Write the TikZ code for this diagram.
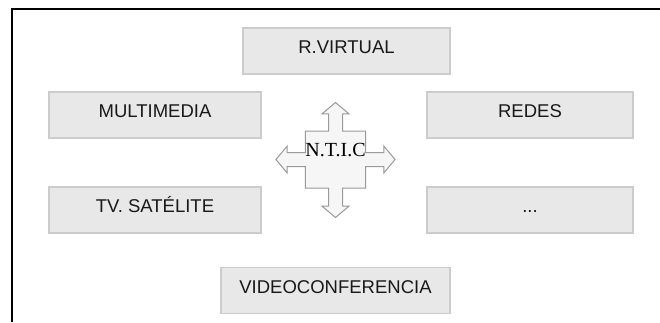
\documentclass[tikz,border=0pt]{standalone}
\usepackage{fontspec}
\setmainfont{Liberation Sans}
\newfontfamily\ticfont{Liberation Serif}
\usepackage{xcolor}
\usetikzlibrary{shapes.arrows}
\definecolor{boxfill}{HTML}{E8E8E8}
\definecolor{boxline}{HTML}{CCCCCC}
\definecolor{crossfill}{HTML}{F6F6F6}
\definecolor{crossline}{HTML}{9A9A9A}

\begin{document}
\begin{tikzpicture}[x=1pt, y=-1pt,
  box/.style={draw=boxline, line width=1.5pt, fill=boxfill, minimum height=46pt,
              font=\fontsize{18.5}{20}\selectfont, text=black!90,
              text height=13.5pt, text depth=8pt, align=center},
  frame/.style={draw=black, line width=2pt},
  cross/.style={draw=crossline, line width=1pt, fill=crossfill,
                minimum width=57pt, minimum height=57pt,
                arrow box arrows={north:28pt, south:29pt, east:29pt, west:29pt},
                arrow box shaft width=14pt, arrow box head extend=6.5pt,
                arrow box head indent=0pt, arrow box tip angle=100,
                font=\ticfont\fontsize{20}{22}\selectfont,
                text height=13.5pt, text depth=19pt, inner sep=0pt}
]
  \useasboundingbox (0,0) rectangle (660,322);
  \draw[frame] (12,322) |- (660,9);

  \node[box, minimum width=207pt] (rv)    at (346.5, 51)  {R.VIRTUAL};
  \node[box, minimum width=212pt] (mult)  at (155, 115)   {MULTIMEDIA};
  \node[box, minimum width=206pt] (redes) at (530, 115)   {REDES};
  \node[box, minimum width=212pt] (tv)    at (155, 210)   {TV. SATÉLITE};
  \node[box, minimum width=206pt] (more)  at (530, 210)   {...};
  \node[box, minimum width=229pt] (video) at (335.5, 290.5) {VIDEOCONFERENCIA};

  \node[cross, shape=arrow box] (ntic) at (335.5, 159.5) {N.T.I.C};
\end{tikzpicture}
\end{document}
